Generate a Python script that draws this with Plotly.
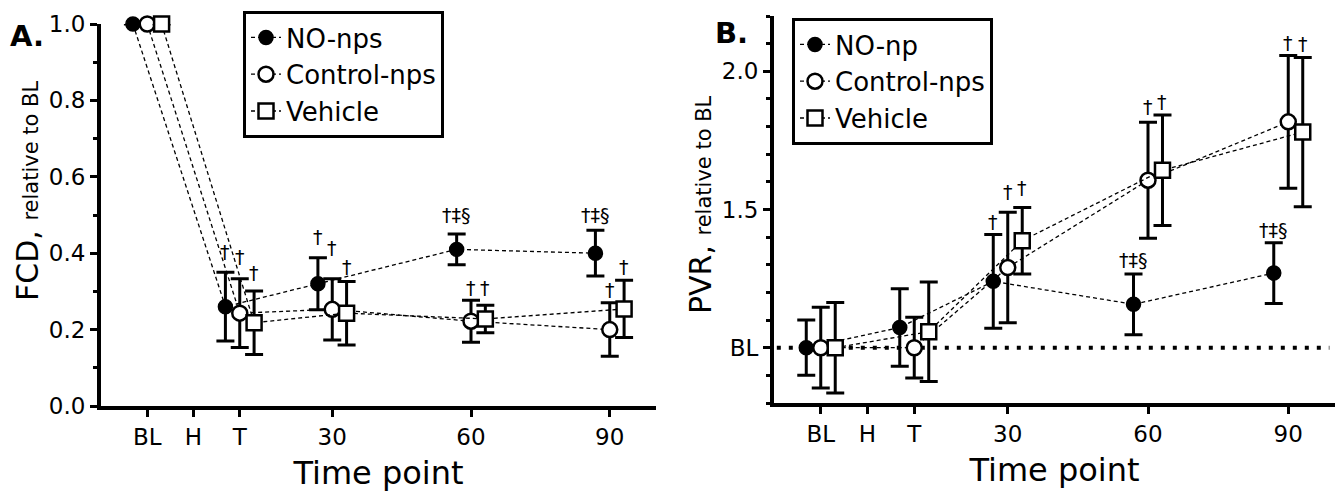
import plotly.graph_objects as go

# ---------------- data ----------------
tick_pos = [0, 1, 2, 4, 7, 10]
tick_labels = ["BL", "H", "T", "30", "60", "90"]
time_pos = [0, 2, 4, 7, 10]           # BL, T, 30, 60, 90
offset = {"NO": -0.31, "Control": 0.0, "Vehicle": 0.31}

# Panel A: FCD relative to BL
fcd_no = [1.0, 0.26, 0.32, 0.41, 0.40]
fcd_no_err = [0, 0.09, 0.068, 0.04, 0.06]
fcd_ctrl = [1.0, 0.243, 0.253, 0.222, 0.20]
fcd_ctrl_err = [0, 0.09, 0.08, 0.055, 0.07]
fcd_veh = [1.0, 0.218, 0.243, 0.228, 0.254]
fcd_veh_err = [0, 0.083, 0.083, 0.036, 0.075]

# Panel B: PVR relative to BL
pvr_no = [1.0, 1.073, 1.24, 1.157, 1.27]
pvr_no_err = [0.10, 0.14, 0.17, 0.11, 0.11]
pvr_ctrl = [1.0, 1.0, 1.29, 1.606, 1.817]
pvr_ctrl_err = [0.146, 0.11, 0.20, 0.21, 0.24]
pvr_veh = [1.0, 1.058, 1.387, 1.642, 1.78]
pvr_veh_err = [0.164, 0.18, 0.12, 0.20, 0.27]

# significance marks: (time index, series, text, label height)
sig_a = [
    (1, "NO", "†", 0.403), (1, "Control", "†", 0.39), (1, "Vehicle", "†", 0.348),
    (2, "NO", "†", 0.442), (2, "Control", "†", 0.413), (2, "Vehicle", "†", 0.363),
    (3, "NO", "†‡§", 0.499), (3, "Control", "†", 0.308), (3, "Vehicle", "†", 0.308),
    (4, "NO", "†‡§", 0.499), (4, "Control", "†", 0.303), (4, "Vehicle", "†", 0.363),
]
sig_b = [
    (2, "NO", "†", 1.456), (2, "Control", "†", 1.562), (2, "Vehicle", "†", 1.577),
    (3, "NO", "†‡§", 1.318), (3, "Control", "†", 1.869), (3, "Vehicle", "†", 1.89),
    (4, "NO", "†‡§", 1.427), (4, "Control", "†", 2.102), (4, "Vehicle", "†", 2.099),
]

FONT = "DejaVu Sans"
W, H = 1342, 494

marker_style = {
    "NO": dict(symbol="circle", size=14, color="black", line=dict(color="black", width=1.5)),
    "Control": dict(symbol="circle", size=15, color="white", line=dict(color="black", width=2.5)),
    "Vehicle": dict(symbol="square", size=15, color="white", line=dict(color="black", width=2.5)),
}

fig = go.Figure()


def add_series(name, key, yvals, errs, xa, ya, legend):
    xs = [t + offset[key] for t in time_pos]
    fig.add_trace(go.Scatter(
        x=xs, y=yvals, mode="lines+markers", name=name,
        xaxis=xa, yaxis=ya, legend=legend, cliponaxis=False,
        line=dict(color="black", width=1.3, dash="4px,3px"),
        marker=marker_style[key],
        error_y=dict(type="data", array=errs, visible=True, color="black",
                     thickness=3, width=9),
    ))


add_series("NO-nps", "NO", fcd_no, fcd_no_err, "x", "y", "legend")
add_series("Control-nps", "Control", fcd_ctrl, fcd_ctrl_err, "x", "y", "legend")
add_series("Vehicle", "Vehicle", fcd_veh, fcd_veh_err, "x", "y", "legend")

add_series("NO-np", "NO", pvr_no, pvr_no_err, "x2", "y2", "legend2")
add_series("Control-nps", "Control", pvr_ctrl, pvr_ctrl_err, "x2", "y2", "legend2")
add_series("Vehicle", "Vehicle", pvr_veh, pvr_veh_err, "x2", "y2", "legend2")

sig_font = dict(family=FONT, size=19, color="black")
annotations = []
for idx, key, txt, yv in sig_a:
    annotations.append(dict(x=time_pos[idx] + offset[key], y=yv, xref="x", yref="y",
                            xanchor="center", yanchor="middle",
                            text=txt, showarrow=False, font=sig_font))
for idx, key, txt, yv in sig_b:
    annotations.append(dict(x=time_pos[idx] + offset[key], y=yv, xref="x2", yref="y2",
                            xanchor="center", yanchor="middle",
                            text=txt, showarrow=False, font=sig_font))

# panel labels and y titles
annotations += [
    dict(x=27 / W, y=1 - 36 / H, xref="paper", yref="paper", xanchor="center", yanchor="middle",
         text="<b>A.</b>", showarrow=False, font=dict(family=FONT, size=29, color="black")),
    dict(x=731 / W, y=1 - 33 / H, xref="paper", yref="paper", xanchor="center", yanchor="middle",
         text="<b>B.</b>", showarrow=False, font=dict(family=FONT, size=29, color="black")),
    dict(x=27 / W, y=1 - 191 / H, xref="paper", yref="paper", xanchor="center", yanchor="middle",
         textangle=-90, showarrow=False,
         text="FCD, <span style='font-size:21px'>relative to BL</span>",
         font=dict(family=FONT, size=30, color="black")),
    dict(x=700 / W, y=1 - 205 / H, xref="paper", yref="paper", xanchor="center", yanchor="middle",
         textangle=-90, showarrow=False,
         text="PVR, <span style='font-size:21px'>relative to BL</span>",
         font=dict(family=FONT, size=30, color="black")),
]

axis_common = dict(showline=True, linewidth=4, linecolor="black", ticks="outside",
                   ticklen=7, tickwidth=3, tickcolor="black", showgrid=False, zeroline=False,
                   tickfont=dict(family=FONT, size=23, color="black"), automargin=False)

xcommon = dict(axis_common, range=[-1, 11], tickvals=tick_pos, ticktext=tick_labels,
               title=dict(text="Time point", font=dict(family=FONT, size=32, color="black"), standoff=14))

legend_common = dict(xanchor="left", yanchor="top", bordercolor="black", borderwidth=3,
                     bgcolor="white", itemwidth=30, tracegroupgap=0,
                     font=dict(family=FONT, size=26, color="black"))

fig.update_layout(
    width=W, height=H, autosize=False,
    paper_bgcolor="white", plot_bgcolor="white",
    margin=dict(l=0, r=0, t=0, b=0),
    showlegend=True,
    font=dict(family=FONT, color="black"),
    xaxis=dict(xcommon, domain=[101 / W, 656 / W], anchor="y"),
    yaxis=dict(axis_common, domain=[1 - 406 / H, 1 - 24 / H], anchor="x", range=[0, 1.0],
               tickvals=[0, 0.2, 0.4, 0.6, 0.8, 1.0], tickformat=".1f",
               minor=dict(ticks="outside", ticklen=4, tickwidth=3, tickcolor="black", dtick=0.1, tick0=0)),
    xaxis2=dict(xcommon, domain=[774 / W, 1335 / W], anchor="y2"),
    yaxis2=dict(axis_common, domain=[1 - 403 / H, 1 - 16 / H], anchor="x2", range=[0.8, 2.2],
                tickvals=[1.0, 1.5, 2.0], ticktext=["BL", "1.5", "2.0"],
                minor=dict(ticks="outside", ticklen=4, tickwidth=3, tickcolor="black", dtick=0.1, tick0=0.8)),
    legend=dict(legend_common, x=243 / W, y=1 - 11 / H),
    legend2=dict(legend_common, x=792 / W, y=1 - 18 / H),
    annotations=annotations,
    shapes=[dict(type="line", xref="x2 domain", yref="y2", x0=0.005, x1=0.99, y0=1.0, y1=1.0,
                 line=dict(color="black", width=4, dash="4px,8px"), layer="below")],
)

fig.write_html("out.html", config={"displayModeBar": False},
               post_script="document.body.style.margin='0px';")
